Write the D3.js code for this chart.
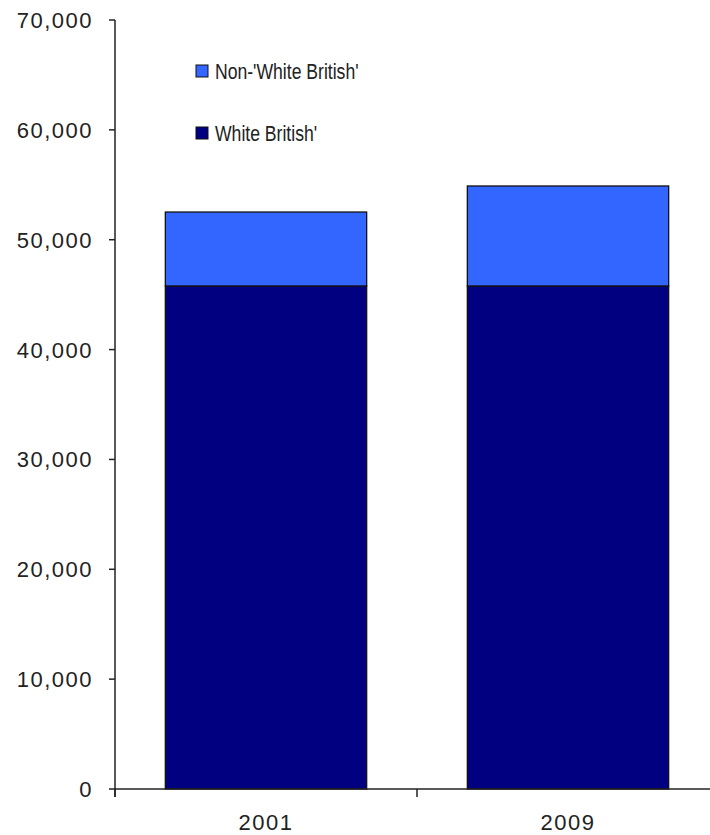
<!DOCTYPE html>
<html>
<head>
<meta charset="utf-8">
<script src="https://cdn.jsdelivr.net/npm/d3@7"></script>
<style>
  html, body { margin: 0; padding: 0; background: #fff; }
  svg { display: block; font-family: "Liberation Sans", Arial, sans-serif; }
</style>
</head>
<body>
<svg id="chart" width="710" height="835"></svg>
<script>
// Population by ethnic group, stacked per year
const years = ["2001", "2009"];
const whiteBritish = [45790, 45790];
const nonWhiteBritish = [6730, 9100];
const seriesNames = ["White British'", "Non-'White British'"];
const seriesColors = ["#000080", "#3366FF"];
const yTicks = [0, 10000, 20000, 30000, 40000, 50000, 60000, 70000];

const svg = d3.select("#chart");
const plotLeft = 115, plotRight = 719, plotTop = 20, plotBottom = 789;

const x = d3.scaleBand().domain(years).range([plotLeft, plotRight])
  .paddingInner(1 / 3).paddingOuter(1 / 6);
const y = d3.scaleLinear().domain([0, 70000]).range([plotBottom, plotTop]);

const rows = years.map((yr, i) => ({ year: yr, white: whiteBritish[i], non: nonWhiteBritish[i] }));
const stacked = d3.stack().keys(["white", "non"])(rows);

// Bars
svg.append("g").selectAll("g").data(stacked).join("g")
  .attr("fill", (d, i) => seriesColors[i])
  .selectAll("rect").data(d => d).join("rect")
  .attr("x", d => x(d.data.year))
  .attr("width", x.bandwidth())
  .attr("y", d => y(d[1]))
  .attr("height", d => y(d[0]) - y(d[1]))
  .attr("stroke", "#111")
  .attr("stroke-width", 1.3);

const fmt = d3.format(",");

// Y axis
const yAxis = svg.append("g");
yAxis.append("line")
  .attr("x1", plotLeft).attr("x2", plotLeft).attr("y1", plotTop).attr("y2", plotBottom + 8)
  .attr("stroke", "#222").attr("stroke-width", 1.5);
yAxis.selectAll("line.tick").data(yTicks).join("line").attr("class", "tick")
  .attr("x1", plotLeft - 6).attr("x2", plotLeft)
  .attr("y1", d => y(d)).attr("y2", d => y(d))
  .attr("stroke", "#222").attr("stroke-width", 1.5);
yAxis.selectAll("text").data(yTicks).join("text")
  .attr("x", 93).attr("y", d => y(d) + 8)
  .attr("text-anchor", "end")
  .attr("font-size", 22)
  .attr("letter-spacing", 1.5)
  .attr("fill", "#222")
  .text(d => fmt(d));

// X axis
const xAxis = svg.append("g");
xAxis.append("line")
  .attr("x1", plotLeft).attr("x2", 710).attr("y1", plotBottom).attr("y2", plotBottom)
  .attr("stroke", "#222").attr("stroke-width", 1.5);
const bounds = [plotLeft, ...years.slice(1).map(yr => x(yr) - x.step() * x.paddingInner() / 2)];
xAxis.selectAll("line.tick").data(bounds).join("line").attr("class", "tick")
  .attr("x1", d => d).attr("x2", d => d)
  .attr("y1", plotBottom).attr("y2", plotBottom + 8)
  .attr("stroke", "#222").attr("stroke-width", 1.5);
xAxis.selectAll("text").data(years).join("text")
  .attr("x", d => x(d) + x.bandwidth() / 2)
  .attr("y", 830)
  .attr("text-anchor", "middle")
  .attr("font-size", 22)
  .attr("letter-spacing", 1.5)
  .attr("fill", "#222")
  .text(d => d);

// Legend (labels set in a condensed face)
const legendItems = [
  { name: seriesNames[1], color: seriesColors[1], y: 71 },
  { name: seriesNames[0], color: seriesColors[0], y: 133 }
];
const lg = svg.append("g").selectAll("g").data(legendItems).join("g");
lg.append("rect")
  .attr("x", 196).attr("y", d => d.y - 6)
  .attr("width", 12).attr("height", 12)
  .attr("fill", d => d.color)
  .attr("stroke", "#111").attr("stroke-width", 1);
lg.append("text")
  .attr("transform", d => `translate(215,${d.y + 8}) scale(0.8,1)`)
  .attr("font-size", 22)
  .attr("fill", "#222")
  .text(d => d.name);
</script>
</body>
</html>
